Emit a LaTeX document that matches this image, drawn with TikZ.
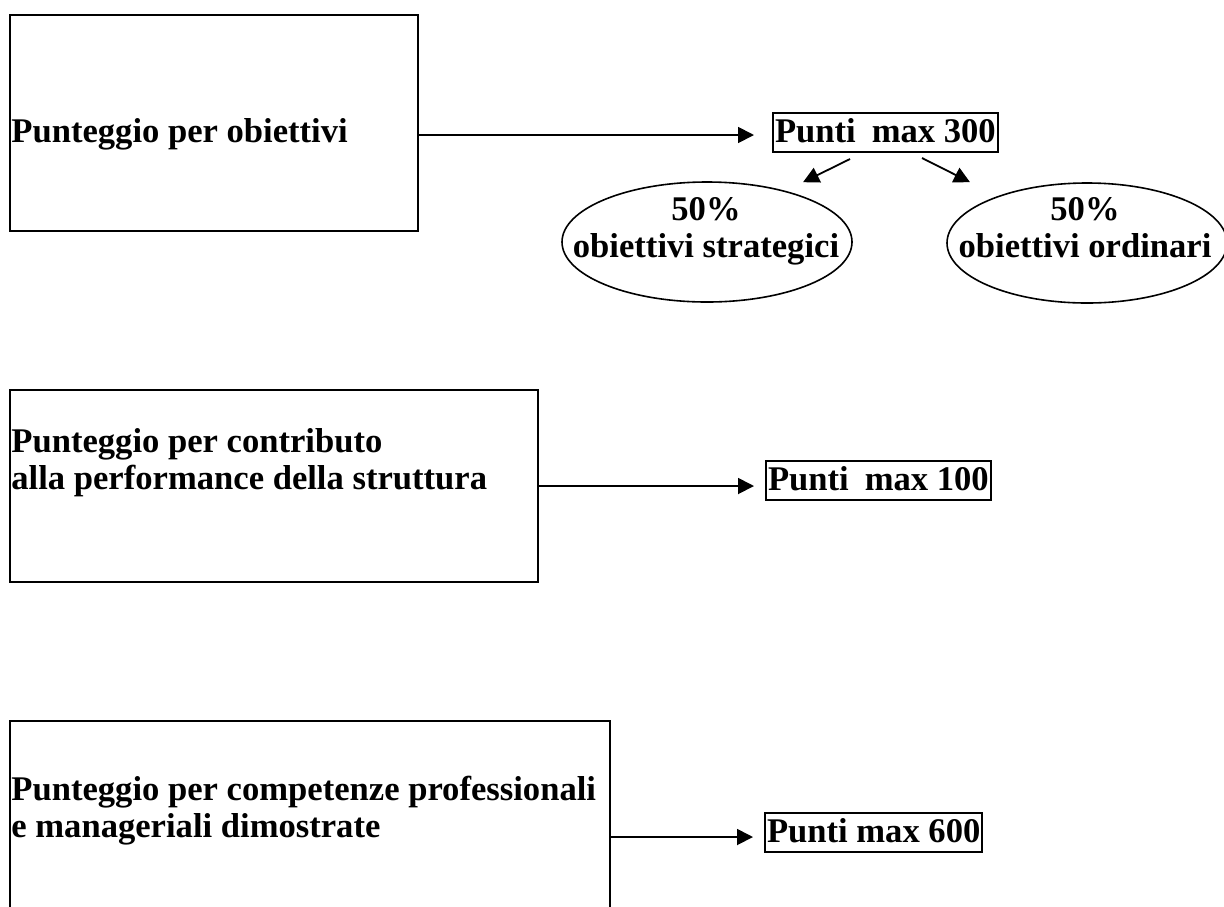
\documentclass[tikz,border=0pt]{standalone}
\usepackage{fontspec}
\setmainfont{Liberation Serif}
\usetikzlibrary{arrows.meta,shapes.geometric}
\newcommand\mlines[2][l]{\begin{tabular}[t]{@{}#1@{}}#2\end{tabular}}
\begin{document}
\begin{tikzpicture}[x=0.5pt,y=-0.5pt,
  bigbox/.style={draw,line width=0.8pt,inner sep=0pt,outer sep=0pt,anchor=north west},
  lbl/.style={font=\fontsize{17.3}{18.5}\selectfont\bfseries,inner sep=0pt,anchor=base west},
  ctr/.style={font=\fontsize{17.3}{18.5}\selectfont\bfseries,inner sep=0pt,anchor=base},
  ptsbox/.style={draw,line width=0.9pt,font=\fontsize{17.3}{18.5}\selectfont\bfseries,
    inner xsep=1pt,inner ysep=1pt,text height=13.5pt,text depth=4pt,anchor=base west,outer sep=0pt},
  oval/.style={draw,ellipse,line width=0.8pt,inner sep=0pt},
  arr/.style={line width=0.9pt,-{Triangle[length=8pt,width=8pt]}}]
\useasboundingbox (0,0) rectangle (1224,906);
\clip (0,0) rectangle (1224,906);

% first row
\node[bigbox,minimum width=204pt,minimum height=108pt] (b1) at (10,15) {};
\node[lbl] (t1) at (11,142) {Punteggio per obiettivi};
\node[ptsbox] (p1) at (773,142) {Punti\hspace{8pt}max 300};
\node[oval,minimum width=145pt,minimum height=60pt] (e1) at (707,242) {};
\node[ctr] (t4) at (706,220) {\mlines[c]{50\%\\obiettivi strategici}};
\node[oval,minimum width=140pt,minimum height=60pt] (e2) at (1087,243) {};
\node[ctr] (t5) at (1085,220) {\mlines[c]{50\%\\obiettivi ordinari}};
\draw[arr] (b1.east |- 0,135) -- ([xshift=-9.5pt]p1.west |- 0,135);
\draw[arr] ([shift={(77,7)}]p1.south west) -- ([shift={(96,1)}]e1.north);
\draw[arr] ([shift={(149,6)}]p1.south west) -- ([shift={(-117,0)}]e2.north);

% second row
\node[bigbox,minimum width=264pt,minimum height=96pt] (b2) at (10,390) {};
\node[lbl] (t2) at (11,452) {\mlines{Punteggio per contributo\\alla performance della struttura}};
\node[ptsbox] (p2) at (766,490) {Punti\hspace{8pt}max 100};
\draw[arr] (b2.east |- 0,486) -- ([xshift=-6pt]p2.west |- 0,486);

% third row
\node[bigbox,minimum width=300pt,minimum height=130pt] (b3) at (10,721) {};
\node[lbl] (t3) at (11,800) {\mlines{Punteggio per competenze professionali\\e manageriali dimostrate}};
\node[ptsbox] (p3) at (765,842) {Punti max 600};
\draw[arr] (b3.north east |- 0,837) -- ([xshift=-6pt]p3.west |- 0,837);
\end{tikzpicture}
\end{document}
